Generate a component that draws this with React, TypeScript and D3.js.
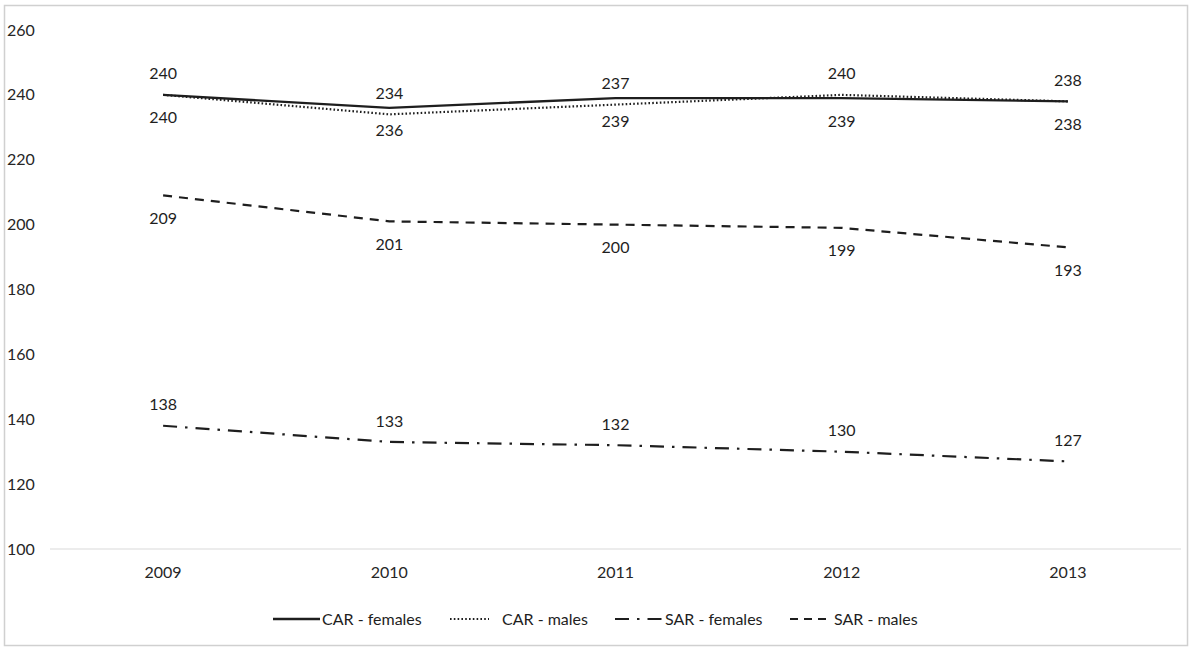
import React from "react";
import * as d3 from "d3";

const years = ["2009", "2010", "2011", "2012", "2013"];
const carFemales = [240, 236, 239, 239, 238];
const carMales = [240, 234, 237, 240, 238];
const sarFemales = [138, 133, 132, 130, 127];
const sarMales = [209, 201, 200, 199, 193];
const yTicks = [100, 120, 140, 160, 180, 200, 220, 240, 260];

const seriesNames = ["CAR - females", "CAR - males", "SAR - females", "SAR - males"];

const W = 1192;
const H = 650;
const FONT = "Lato, 'Open Sans', sans-serif";

export default function App() {
  const x = d3.scaleBand<string>().domain(years).range([50, 1181]);
  const y = d3.scaleLinear().domain([100, 260]).range([549, 30]);
  const line = d3
    .line<number>()
    .x((_, i) => (x(years[i]) as number) + x.bandwidth() / 2)
    .y((d) => y(d));

  const series = [
    { name: seriesNames[0], data: carFemales, dash: "none", legDash: "none", width: 2.4, labelPos: "below", lx: 273, lw: 47, tx: 322 },
    { name: seriesNames[1], data: carMales, dash: "1.6 2.2", legDash: "1.6 2.2", width: 2.2, labelPos: "above", lx: 450, lw: 39, tx: 502 },
    { name: seriesNames[2], data: sarFemales, dash: "14 8 2.5 8", legDash: "14 8 2.5 8", width: 2.2, labelPos: "above", lx: 615, lw: 48, tx: 665 },
    { name: seriesNames[3], data: sarMales, dash: "9 7", legDash: "8 6", width: 2.2, labelPos: "below", lx: 790, lw: 42, tx: 834 },
  ];

  const cx = (i: number) => (x(years[i]) as number) + x.bandwidth() / 2;

  return (
    <svg width={W} height={H} style={{ position: "absolute", left: 0, top: 0 }} fontFamily={FONT}>
      <rect x={0} y={0} width={W} height={H} fill="#fff" />
      <rect x={4.5} y={5.5} width={1183} height={640} fill="none" stroke="#d0d0d0" strokeWidth={1.5} />
      <line x1={50} x2={1181} y1={y(100)} y2={y(100)} stroke="#d9d9d9" strokeWidth={1.2} />
      {yTicks.map((t) => (
        <text key={t} x={7} y={y(t)} dy="0.35em" fontSize={16} fill="#262626">
          {t}
        </text>
      ))}
      {years.map((yr, i) => (
        <text key={yr} x={cx(i)} y={572} dy="0.35em" textAnchor="middle" fontSize={16} fill="#262626">
          {yr}
        </text>
      ))}
      {series.map((s) => (
        <g key={s.name}>
          <path d={line(s.data) || ""} fill="none" stroke="#1e1e1e" strokeWidth={s.width} strokeDasharray={s.dash} />
          {s.data.map((v, i) => (
            <text
              key={i}
              x={cx(i)}
              y={y(v) + (s.labelPos === "above" ? -21 : 23)}
              dy="0.35em"
              textAnchor="middle"
              fontSize={16}
              fill="#1e1e1e"
            >
              {v}
            </text>
          ))}
          <line x1={s.lx} x2={s.lx + s.lw} y1={619} y2={619} stroke="#1e1e1e" strokeWidth={s.width} strokeDasharray={s.legDash} />
          <text x={s.tx} y={619} dy="0.35em" fontSize={16} fill="#1e1e1e">
            {s.name}
          </text>
        </g>
      ))}
    </svg>
  );
}
